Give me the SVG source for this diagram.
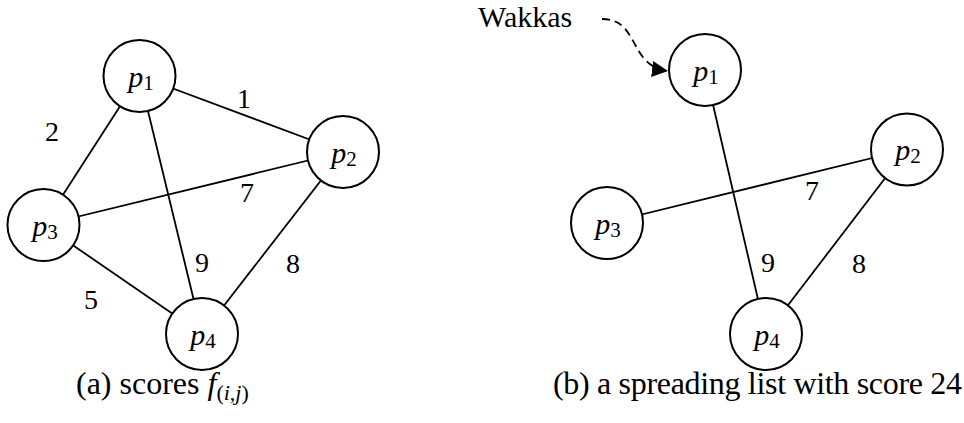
<svg xmlns="http://www.w3.org/2000/svg" width="964" height="423" viewBox="0 0 964 423">
<style>
.edge{stroke:#000;stroke-width:1.8;fill:none}
.node circle{fill:#fff;stroke:#000;stroke-width:2}
text{font-family:"Liberation Serif","Times New Roman",serif;fill:#000}
.lbl{font-size:30px;font-style:italic;text-anchor:middle}
.sub{font-style:normal;font-size:21px}
.num{font-size:28px;text-anchor:middle}
.cap{font-size:30px}
.capb{font-size:32px}
.capsub{font-size:22px}
.it{font-style:italic}
</style>
<defs>
<marker id="arr" viewBox="0 0 10 10" refX="10" refY="5" markerWidth="16" markerHeight="16" markerUnits="userSpaceOnUse" orient="auto">
<path d="M0,0 L10,5 L0,10 z" fill="#000"/>
</marker>
</defs>
<rect width="964" height="423" fill="#fff"/>
<g id="connectors">
<line class="edge" x1="139.5" y1="76" x2="343" y2="152"/>
<line class="edge" x1="139.5" y1="76" x2="43.5" y2="225"/>
<line class="edge" x1="139.5" y1="76" x2="202" y2="334"/>
<line class="edge" x1="43.5" y1="225" x2="343" y2="152"/>
<line class="edge" x1="43.5" y1="225" x2="202" y2="334"/>
<line class="edge" x1="343" y1="152" x2="202" y2="334"/>
<line class="edge" x1="705" y1="70" x2="766" y2="334"/>
<line class="edge" x1="607" y1="223" x2="907" y2="149.5"/>
<line class="edge" x1="907" y1="149.5" x2="766" y2="334"/>
<path class="edge" d="M602,19 C640,19 628,66 668,71" stroke-dasharray="8,5" marker-end="url(#arr)"/>
</g>
<g id="a-p1" class="node"><circle cx="139.5" cy="76" r="36"/><text class="lbl" x="141" y="87">p<tspan class="sub" dy="3">1</tspan></text></g>
<g id="a-p2" class="node"><circle cx="343" cy="152" r="36"/><text class="lbl" x="344" y="163">p<tspan class="sub" dy="3">2</tspan></text></g>
<g id="a-p3" class="node"><circle cx="43.5" cy="225" r="36"/><text class="lbl" x="45" y="236">p<tspan class="sub" dy="3">3</tspan></text></g>
<g id="a-p4" class="node"><circle cx="202" cy="334" r="36"/><text class="lbl" x="203" y="345">p<tspan class="sub" dy="3">4</tspan></text></g>
<g id="b-p1" class="node"><circle cx="705" cy="70" r="36"/><text class="lbl" x="706" y="81">p<tspan class="sub" dy="3">1</tspan></text></g>
<g id="b-p2" class="node"><circle cx="907" cy="149.5" r="36"/><text class="lbl" x="908" y="160">p<tspan class="sub" dy="3">2</tspan></text></g>
<g id="b-p3" class="node"><circle cx="607" cy="223" r="36"/><text class="lbl" x="608" y="234">p<tspan class="sub" dy="3">3</tspan></text></g>
<g id="b-p4" class="node"><circle cx="766" cy="334" r="36"/><text class="lbl" x="767" y="345">p<tspan class="sub" dy="3">4</tspan></text></g>
<g id="edge-labels">
<text class="num" x="244" y="108">1</text>
<text class="num" x="52" y="141">2</text>
<text class="num" x="247" y="202">7</text>
<text class="num" x="202" y="272">9</text>
<text class="num" x="293" y="273">8</text>
<text class="num" x="91" y="309">5</text>
<text class="num" x="812" y="200">7</text>
<text class="num" x="768" y="272">9</text>
<text class="num" x="859" y="273">8</text>
</g>
<text id="wakkas" class="cap" x="478" y="27">Wakkas</text>
<text class="capb" x="76" y="394">(a) scores <tspan class="it">f</tspan><tspan class="capsub" dy="6">(<tspan class="it">i</tspan>,<tspan class="it">j</tspan>)</tspan></text>
<text class="capb" x="553" y="394" textLength="409">(b) a spreading list with score 24</text>
</svg>
